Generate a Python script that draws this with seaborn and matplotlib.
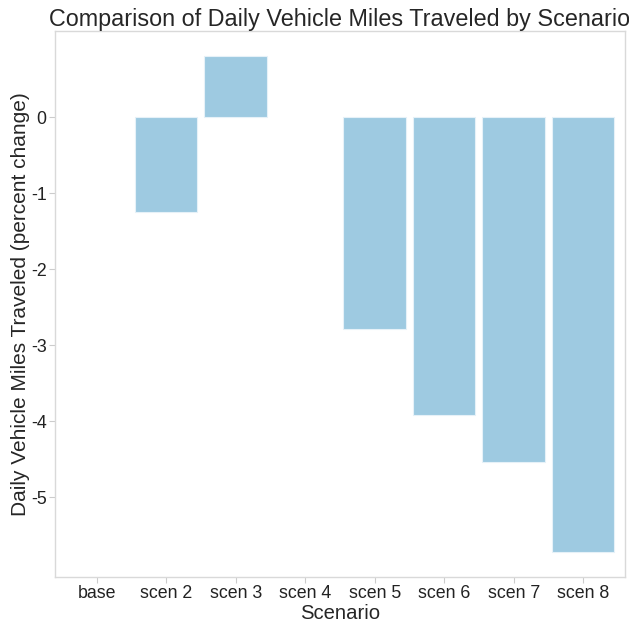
import pandas as pd
import seaborn as sns
import matplotlib.pyplot as plt

# Percent change in daily VMT relative to base
scenarios = ["base", "scen 2", "scen 3", "scen 4", "scen 5", "scen 6", "scen 7", "scen 8"]
pct_change = [0.0, -1.25, 0.81, 0.0, -2.78, -3.92, -4.53, -5.72]

df = pd.DataFrame({"Scenario": scenarios, "VMT": pct_change})

sns.set_style("white")
plt.rcParams["font.family"] = ["Liberation Sans", "DejaVu Sans"]

fig = plt.figure(figsize=(6.29, 6.23), dpi=100)
ax = fig.add_axes([0.0874, 0.074, 0.906, 0.876])

sns.barplot(data=df, x="Scenario", y="VMT", order=scenarios, color="#9ecae1",
            saturation=1, width=0.9, edgecolor="#e6f1f8", linewidth=0.8, ax=ax)

# zero-height bars should not leave an outline behind
for p in ax.patches:
    if p.get_height() == 0:
        p.set_edgecolor("none")

ax.set_xlim(-0.6, 7.6)
ax.set_yticks([0, -1, -2, -3, -4, -5])
ax.set_yticklabels(["0", "-1", "-2", "-3", "-4", "-5"])

for s in ax.spines.values():
    s.set_color("#d9d9d9")
    s.set_linewidth(1.0)
ax.tick_params(axis="both", which="both", length=4, width=0.8, color="#cccccc",
               labelsize=12.8, labelcolor="#222222", pad=2, direction="out",
               bottom=True, left=True)

ax.set_xlabel("Scenario", fontsize=14.6, labelpad=1)
ax.set_ylabel("Daily Vehicle Miles Traveled (percent change)", fontsize=15, labelpad=1)
ax.set_title("Comparison of Daily Vehicle Miles Traveled by Scenario", fontsize=16.8, pad=3)

fig.savefig("out.png", dpi=100)
